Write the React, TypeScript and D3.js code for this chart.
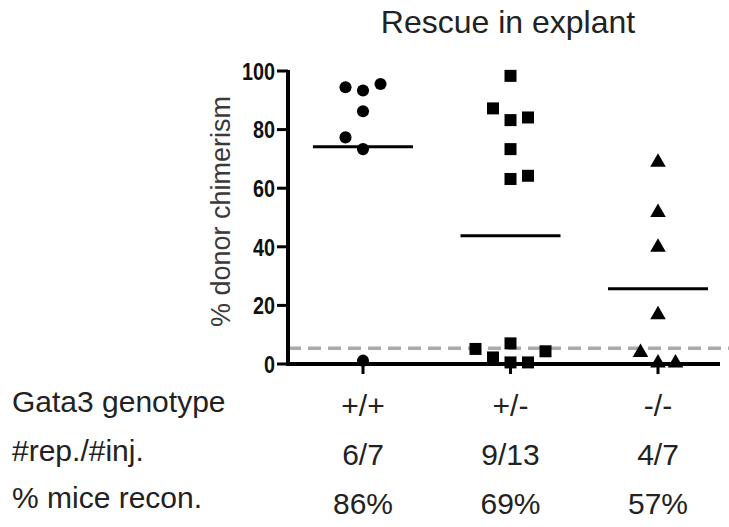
import React from 'react';
import * as d3 from 'd3';

const genotypes = ['+/+', '+/-', '-/-'];
const wtValues = [94.1, 93, 95.2, 85.9, 77, 73, 0.8];
const wtLanes = [-1, 0, 1, 0, -1, 0, 0];
const hetValues = [98, 86.9, 82.9, 83.8, 73, 62.8, 63.9, 4.8, 6.7, 4, 1.9, 0.2, 0.2];
const hetLanes = [0, -1, 0, 1, 0, 0, 1, -2, 0, 2, -1, 0, 1];
const koValues = [68.5, 51.4, 39.5, 16.5, 3.6, 0, 0];
const koLanes = [0, 0, 0, 0, -1, 0, 1];
const yTicks = [0, 20, 40, 60, 80, 100];
const threshold = 5;
const repInj = ['6/7', '9/13', '4/7'];
const miceRecon = ['86%', '69%', '57%'];

const W = 729;
const H = 527;

const App = () => {
  const y = d3.scaleLinear().domain([0, 100]).range([364, 71]);
  const x = d3.scalePoint().domain(genotypes).range([363, 658]);
  const laneStep = 17.5;
  const axisLeft = 288;
  const axisRight = 720;

  const groups = [
    { values: wtValues, lanes: wtLanes, shape: d3.symbolCircle, size: 115 },
    { values: hetValues, lanes: hetLanes, shape: d3.symbolSquare, size: 144 },
    { values: koValues, lanes: koLanes, shape: d3.symbolTriangle, size: 105 },
  ];

  const font = 'Arial, "Liberation Sans", sans-serif';

  return (
    <svg width={W} height={H} style={{ position: 'absolute', left: 0, top: 0, background: '#fff' }}
      fontFamily={font}>
      <text x={508} y={33} textAnchor="middle" fontSize={32} fill="#222">Rescue in explant</text>
      <text transform={`translate(230,${(y(0) + y(100)) / 2 - 6}) rotate(-90)`} textAnchor="middle"
        fontSize={27} fill="#3a3a3a">% donor chimerism</text>

      {/* threshold */}
      <line x1={axisLeft} x2={W} y1={y(threshold) - 1} y2={y(threshold) - 1}
        stroke="#aaa" strokeWidth={3.5} strokeDasharray="13,7" />

      {/* y axis */}
      <line x1={axisLeft} x2={axisLeft} y1={y(100) - 1} y2={y(0) + 2} stroke="#000" strokeWidth={4} />
      {yTicks.map(t => (
        <g key={t}>
          <line x1={axisLeft - 11} x2={axisLeft} y1={y(t)} y2={y(t)} stroke="#000" strokeWidth={3} />
          <text transform={`translate(${axisLeft - 13},${y(t)}) scale(0.9,1.1)`} dy="0.36em"
            textAnchor="end" fontSize={22} fontWeight="bold" fill="#111">{t}</text>
        </g>
      ))}

      {/* x axis */}
      <line x1={axisLeft - 2} x2={axisRight} y1={y(0)} y2={y(0)} stroke="#000" strokeWidth={4} />
      {genotypes.map(g => (
        <line key={g} x1={x(g)} x2={x(g)} y1={y(0)} y2={y(0) + 10} stroke="#000" strokeWidth={3} />
      ))}

      {/* points and means */}
      {groups.map((gr, gi) => {
        const cx = x(genotypes[gi]) as number;
        const mean = d3.mean(gr.values) as number;
        const path = d3.symbol().type(gr.shape).size(gr.size)() as string;
        return (
          <g key={gi}>
            {gr.values.map((v, i) => (
              <path key={i} d={path}
                transform={`translate(${cx + gr.lanes[i] * laneStep},${y(v) - 1})`} fill="#000" />
            ))}
            <line x1={cx - 50} x2={cx + 50} y1={y(mean)} y2={y(mean)} stroke="#000" strokeWidth={3} />
          </g>
        );
      })}

      {/* table */}
      <text x={12} y={412} fontSize={30} fill="#222">Gata3 genotype</text>
      <text x={12} y={461} fontSize={30} fill="#222">#rep./#inj.</text>
      <text x={12} y={508} fontSize={30} fill="#222">% mice recon.</text>
      {genotypes.map((g, i) => (
        <g key={g}>
          <text x={x(g)} y={416} textAnchor="middle" fontSize={30} fill="#222">{g}</text>
          <text x={x(g)} y={465} textAnchor="middle" fontSize={30} fill="#222">{repInj[i]}</text>
          <text x={x(g)} y={514} textAnchor="middle" fontSize={30} fill="#222">{miceRecon[i]}</text>
        </g>
      ))}
    </svg>
  );
};

export default App;
